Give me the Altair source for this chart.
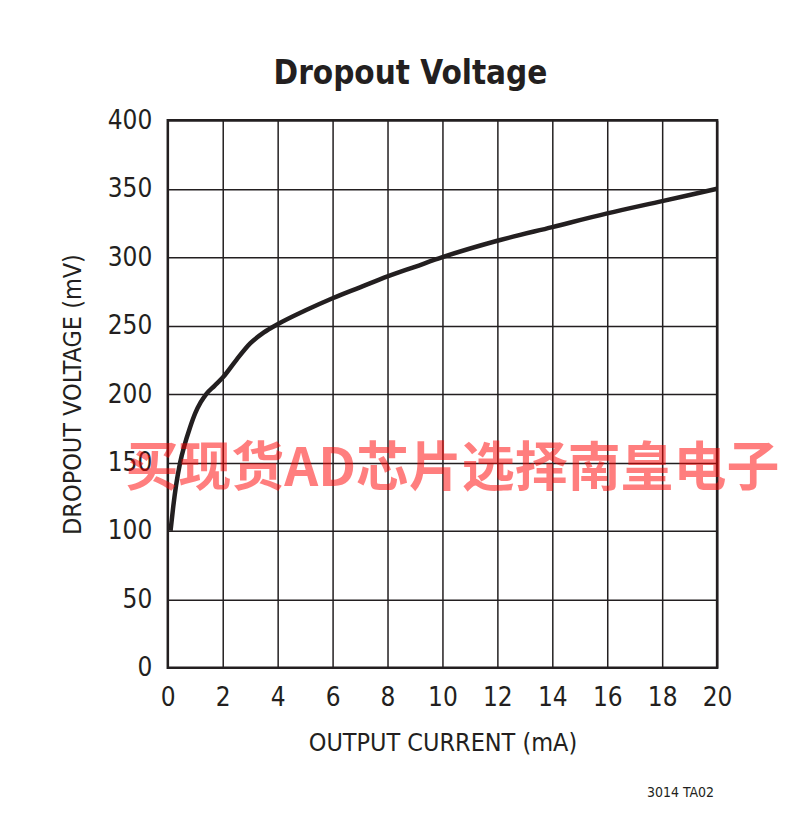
import altair as alt
import pandas as pd

current_ma = [0.1, 0.2, 0.3, 0.45, 0.6, 0.8, 1.0, 1.2, 1.4, 1.7, 2.0, 2.5, 3.0, 3.5, 4.0, 5.0, 6.0, 7.0, 8.0, 9.0, 10.0, 12.0, 14.0, 16.0, 18.0, 20.0]
dropout_mv = [100, 118, 133, 150, 162, 175, 186, 194, 200, 206, 212, 225, 237, 245, 251, 261, 270, 278, 286, 293, 300, 312, 322, 332, 341, 350]

x_ticks = list(range(0, 21, 2))
y_ticks = list(range(0, 401, 50))

FONT = "DejaVu Sans Condensed, Liberation Sans, sans-serif"
INK = "#231f20"

df = pd.DataFrame({"current": current_ma, "mv": dropout_mv})

line = alt.Chart(df).mark_line(color=INK, strokeWidth=4.5, interpolate="monotone").encode(
    x=alt.X("current:Q", scale=alt.Scale(domain=[0, 20], nice=False),
            axis=alt.Axis(values=x_ticks, title="OUTPUT CURRENT (mA)", grid=True)),
    y=alt.Y("mv:Q", scale=alt.Scale(domain=[0, 400], nice=False),
            axis=alt.Axis(values=y_ticks, title="DROPOUT VOLTAGE (mV)", grid=True)),
)

note = alt.Chart(pd.DataFrame({"t": ["3014 TA02"]})).mark_text(
    font=FONT, fontSize=14, color=INK, align="right", baseline="middle"
).encode(x=alt.value(547), y=alt.value(673), text="t:N")

watermark = alt.Chart(pd.DataFrame({"t": ["买现货AD芯片选择南皇电子"]})).mark_text(
    font="Noto Sans CJK SC", fontWeight="bold", fontSize=53, color="#ff0000", opacity=0.5,
    align="center", baseline="middle"
).encode(x=alt.value(285), y=alt.value(350), text="t:N")

chart = alt.layer(line, watermark, note).properties(
    width=550, height=548,
    title=alt.TitleParams("Dropout Voltage", font=FONT, fontSize=33, fontWeight="bold",
                          color=INK, anchor="middle", dx=-32, offset=16),
    autosize=alt.AutoSizeParams(type="none"),
    padding={"left": 160, "top": 112, "right": 80, "bottom": 140},
).configure_view(stroke=INK, strokeWidth=2.5).configure_axis(
    gridColor=INK, gridWidth=1.5, gridOpacity=1, domain=False, ticks=False, labelFlush=False,
    labelFont=FONT, labelFontSize=26, labelColor=INK,
    titleFont=FONT, titleFontSize=25, titleColor=INK, titleFontWeight="normal",
).configure_axisX(labelPadding=17, titlePadding=20).configure_axisY(labelPadding=16, titlePadding=22)

chart.save("out.html", embed_options={"renderer": "svg", "actions": False})
